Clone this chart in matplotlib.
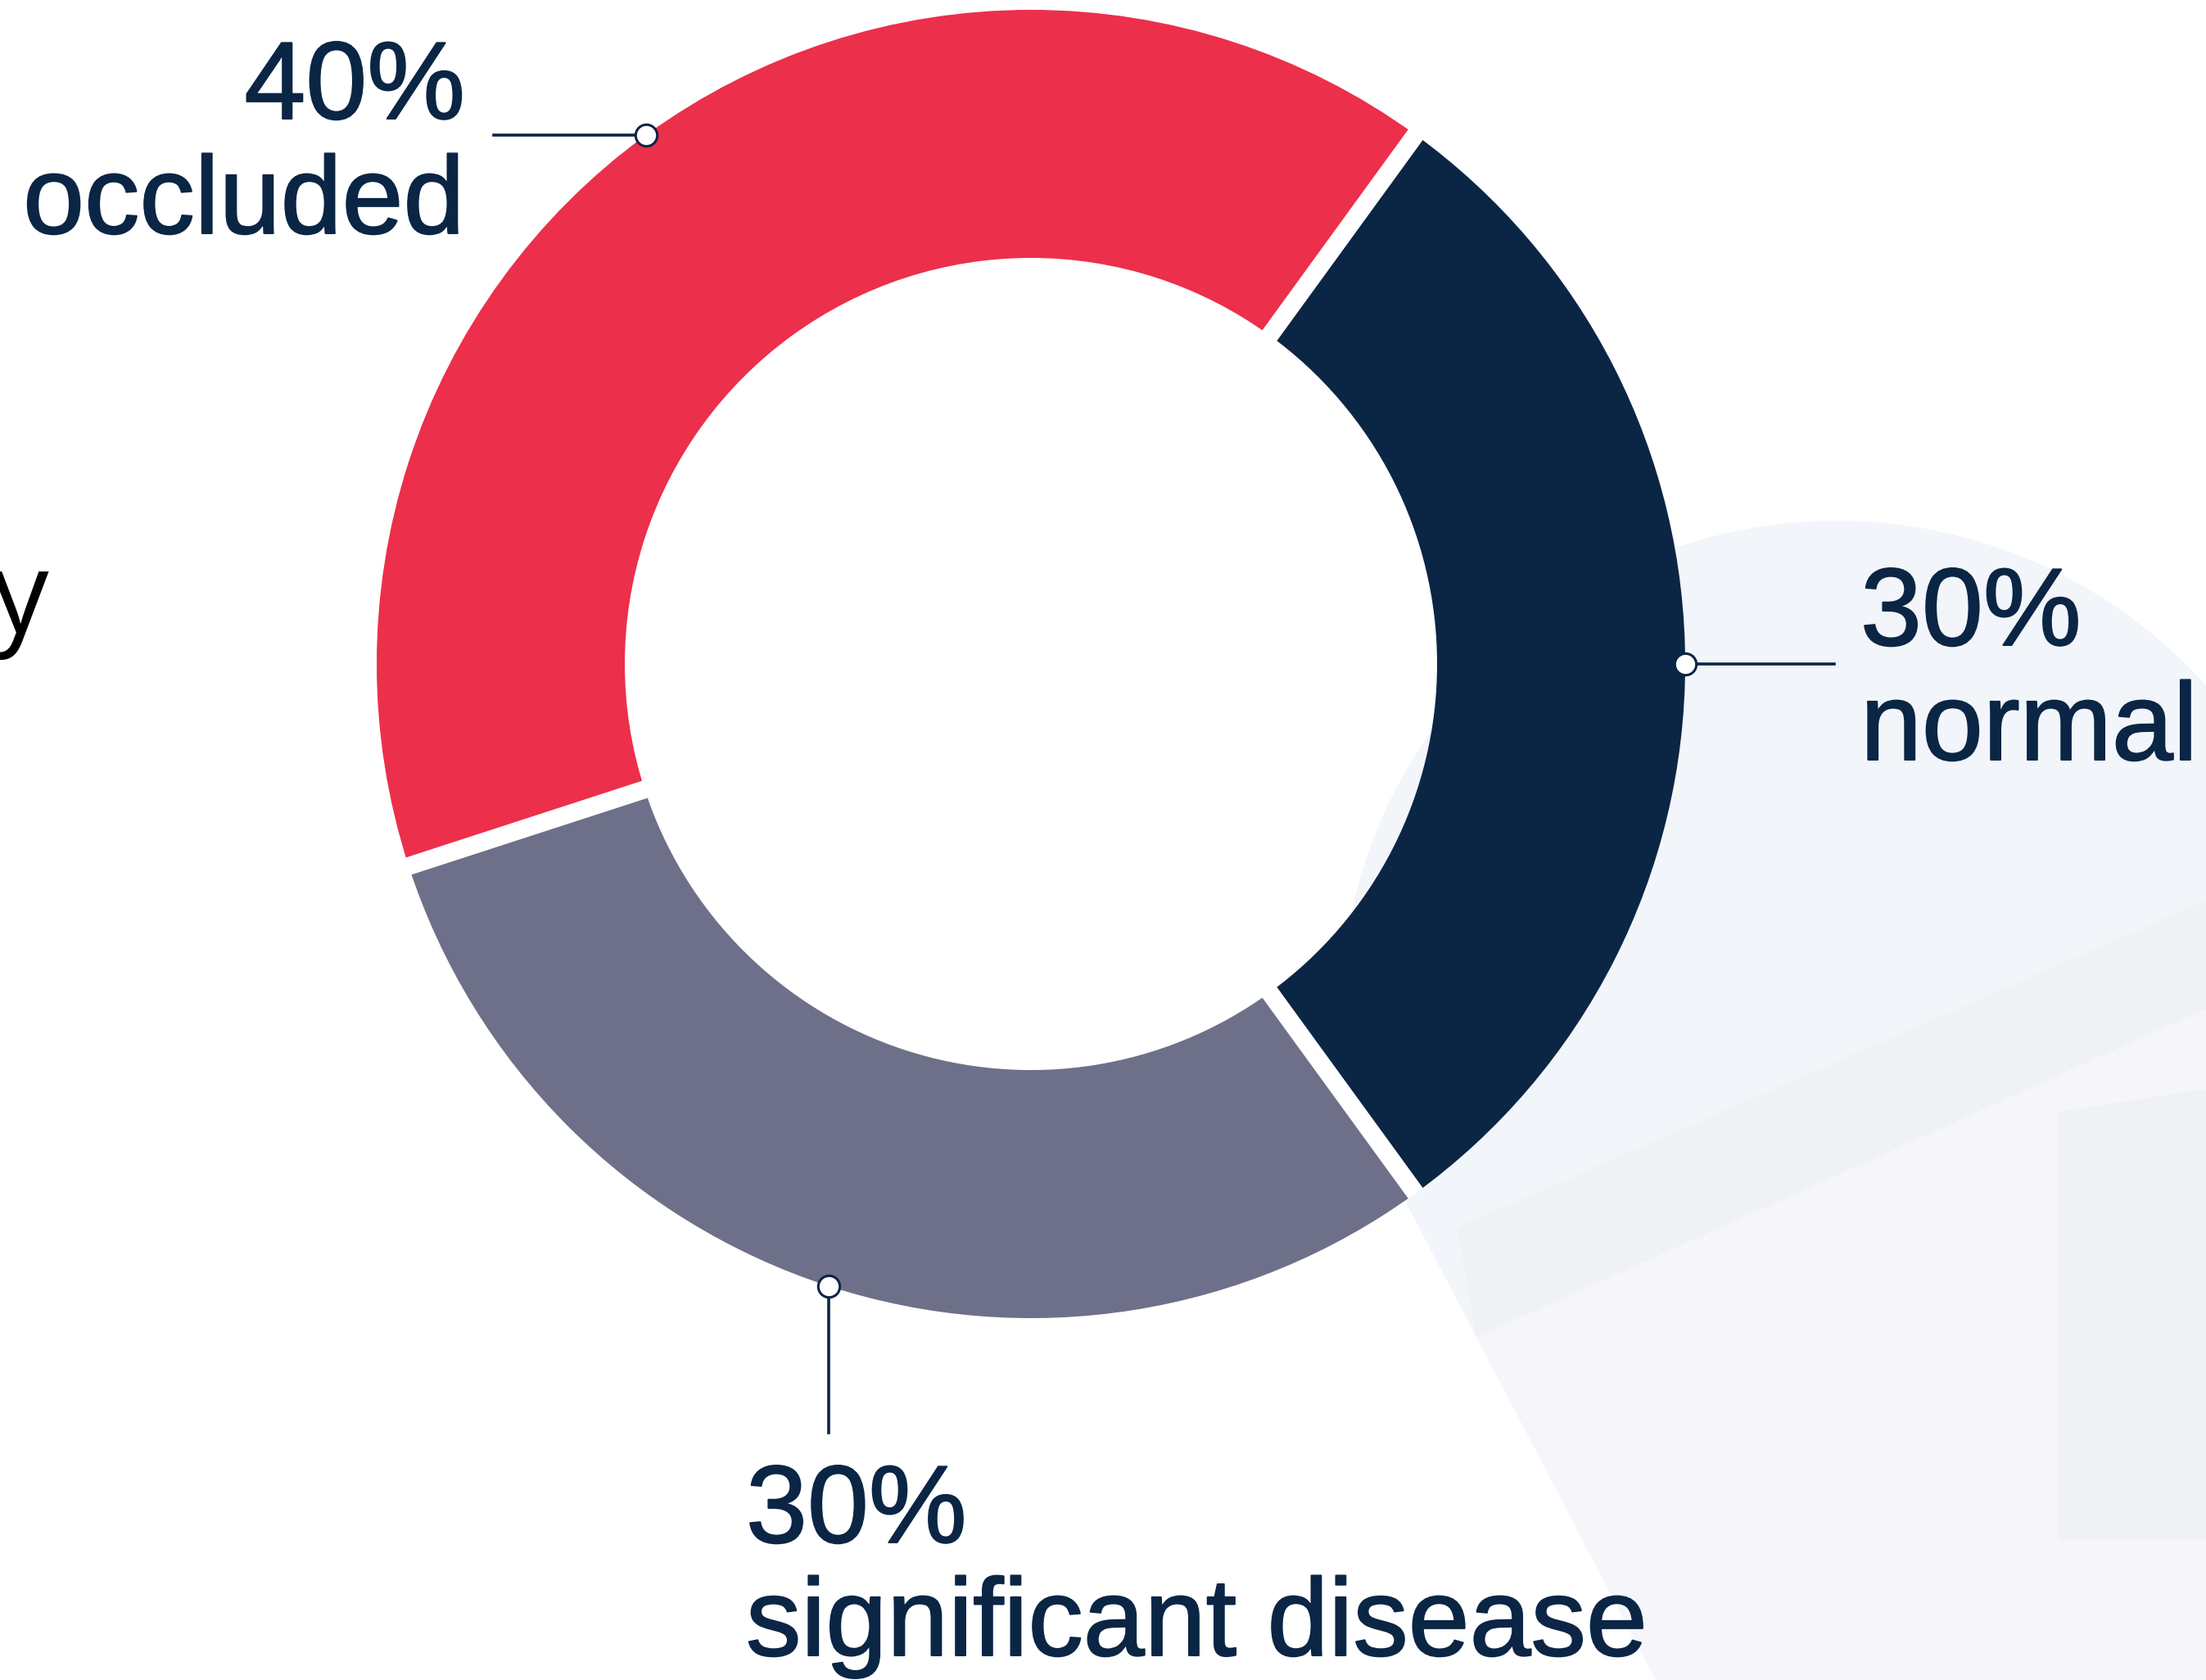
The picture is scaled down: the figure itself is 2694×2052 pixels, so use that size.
import numpy as np
import matplotlib.pyplot as plt
import matplotlib.patheffects as pe
from matplotlib.patches import Circle, Polygon

W, H = 2694, 2052

# shares of the three outcome groups
labels = ['normal', 'occluded', 'significant disease']
shares = [30, 40, 30]
colors = ['#0B2545', '#EC2F4B', '#6D7088']
navy = '#0B2545'

plt.rcParams['font.family'] = ['Liberation Sans', 'DejaVu Sans']

fig = plt.figure(figsize=(W / 100, H / 100), dpi=100)
ax = fig.add_axes([0, 0, 1, 1])


def py(y):
    # rows are measured from the top of the canvas
    return H - y


def shape(pts, color, z=0):
    p = Polygon([(x, py(y)) for x, y in pts], closed=True,
                facecolor=color, edgecolor='none', zorder=z)
    ax.add_patch(p)
    return p


# faint watermark behind the ring (light disc, lower slab, diagonal band, block)
cut = Polygon([(x, py(y)) for x, y in [(930, -40), (2900, -40), (2900, 2100), (2047, 2100)]],
              closed=True, transform=ax.transData, visible=False)
ax.add_patch(cut)
disc = Circle((2243, py(1242)), 606, facecolor='#F2F5F9', edgecolor='none', zorder=0)
ax.add_patch(disc)
disc.set_clip_path(cut)
shape([(1715, 1465), (1803, 1633), (2694, 1232), (2694, 1000), (2400, 1100)], '#F2F5F9')
shape([(1803, 1633), (2694, 1232), (2694, 2060), (2026, 2060)], '#F6F6FA')
shape([(1780, 1499), (2300, 1272), (2694, 1100), (2694, 1232), (2300, 1410), (1803, 1633)],
      '#EFF2F5')
shape([(2513, 1358), (2694, 1330), (2694, 1881), (2513, 1881)], '#EFF2F5')

# donut
cx, cy = 1259, py(811)
r_out, r_in = 799, 496
gap = 22
wedges, _ = ax.pie(shares, colors=colors, startangle=-54, counterclock=True,
                   radius=r_out, center=(cx, cy),
                   wedgeprops=dict(width=r_out - r_in, linewidth=0))
for w in wedges:
    w.set_zorder(2)

# white cuts between the segments
for w in wedges:
    a = np.deg2rad(w.theta1)
    rr = np.array([r_in - 2, r_out + 1])
    ax.plot(cx + rr * np.cos(a), cy + rr * np.sin(a), color='white',
            lw=gap * 0.72, solid_capstyle='butt', zorder=2.5)

# leader lines with the small ring markers on the outer edge
anchors = []
for w in wedges:
    mid = np.deg2rad((w.theta1 + w.theta2) / 2)
    anchors.append((cx + r_out * np.cos(mid), cy + r_out * np.sin(mid)))

(nx, ny), (ox, oy), (sx, sy) = anchors
ax.plot([nx, 2240], [ny, ny], color=navy, lw=2.6, zorder=3)
ax.plot([ox, 603], [oy, oy], color=navy, lw=2.6, zorder=3)
ax.plot([sx, sx], [sy, py(1750)], color=navy, lw=2.6, zorder=3)
for x, y in anchors:
    ax.plot(x, y, 'o', ms=19, mfc='white', mec=navy, mew=2.2, zorder=4)

fs = 97
heavy = [pe.Stroke(linewidth=1.4, foreground=navy, joinstyle='round'), pe.Normal()]
pct = [f'{v}%' for v in shares]
kw = dict(fontsize=fs, color=navy, va='baseline', path_effects=heavy)
ax.text(2272, py(788), pct[0], ha='left', **kw)
ax.text(2272, py(928), labels[0], ha='left', **kw)
ax.text(568, py(145), pct[1], ha='right', **kw)
ax.text(568, py(285), labels[1], ha='right', **kw)
ax.text(911, py(1884), pct[2], ha='left', **kw)
ax.text(911, py(2022), labels[2], ha='left', **kw)

# tail of the slide heading cut off at the left edge
ax.text(-10, py(773), 'y', fontsize=100, color='black', ha='left', va='baseline',
        family=['Open Sans', 'DejaVu Sans'])

ax.set_xlim(0, W)
ax.set_ylim(0, H)
ax.set_aspect('equal')
ax.axis('off')

fig.savefig('out.png', dpi=100, facecolor='white')
